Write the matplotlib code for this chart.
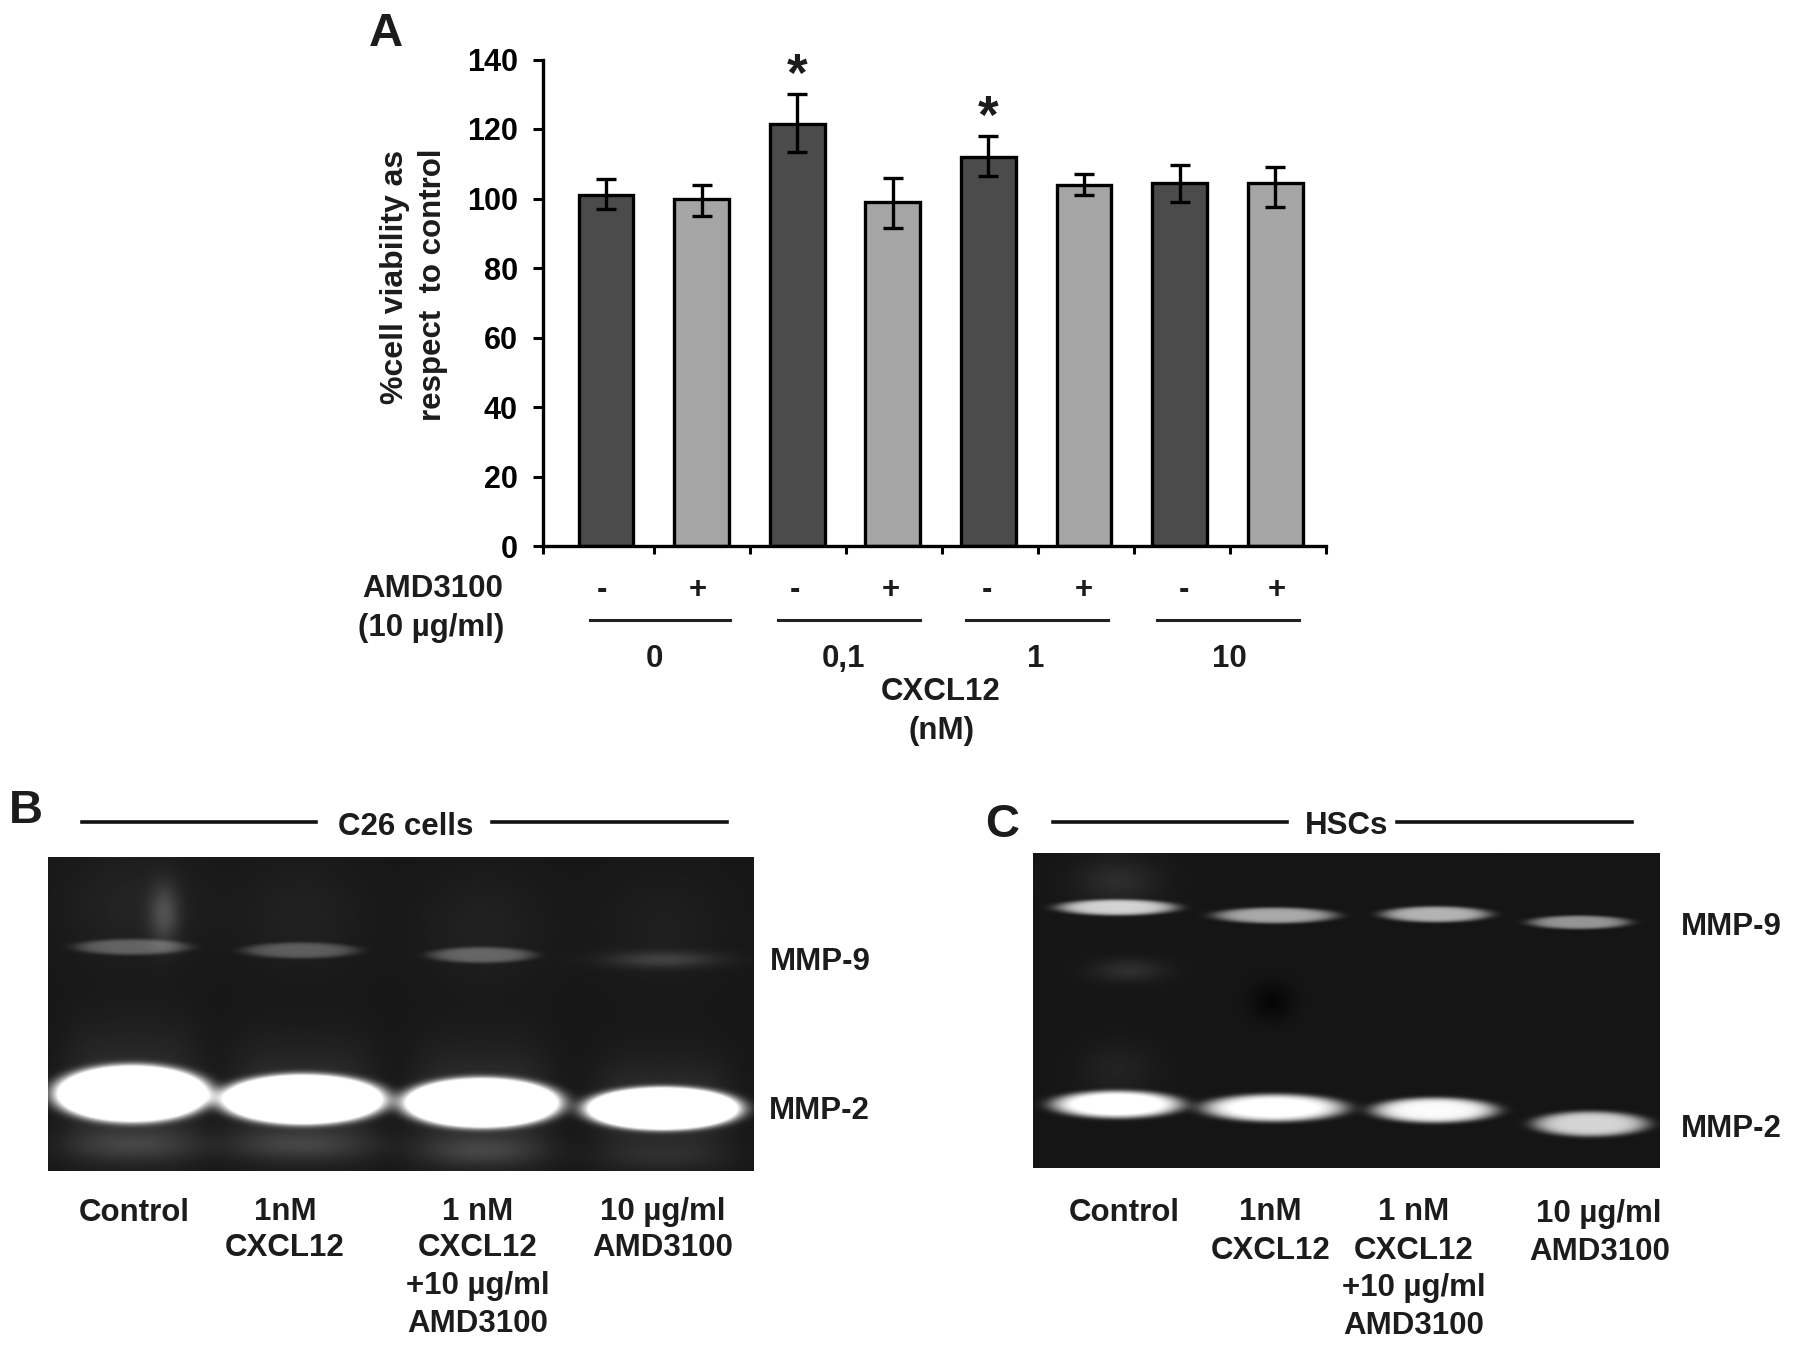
#!/usr/bin/python
# -*- coding: utf-8 -*-
import numpy as np
import matplotlib
matplotlib.use('Agg')
import matplotlib.pyplot as plt

plt.rcParams['font.family'] = ['Liberation Sans', 'DejaVu Sans']
plt.rcParams['font.weight'] = 'bold'

# panel A
viability = [101, 100, 121.5, 99, 112, 104, 104.5, 104.5]
err_up = [4.5, 4, 8.5, 7, 6, 3, 5, 4.5]
err_down = [4, 5, 8, 7.5, 5.5, 3, 5.5, 7]
bar_colors = ['#4b4b4b', '#a5a5a5'] * 4
amd_signs = ['-', '+', '-', '+', '-', '+', '-', '+']
y_ticks = [0, 20, 40, 60, 80, 100, 120, 140]
cxcl_doses = ['0', '0,1', '1', '10']
star_bars = [2, 4]

# gels: lane centre x, band y, half width, half height, brightness
b_x = [115, 264, 420, 578, 115, 262, 420, 578, 143, 115, 262, 420, 578, 115, 262, 420, 578]
b_y = [955, 960, 963, 968, 827, 830, 834, 838, 798, 1000, 1000, 1005, 1010, 790, 800, 810, 810]
b_w = [66, 70, 67, 66, 50, 50, 46, 48, 13, 58, 62, 52, 56, 60, 55, 55, 55]
b_h = [24, 21, 21, 18, 7, 7, 7, 7, 26, 14, 13, 13, 12, 50, 50, 50, 50]
b_i = [2.2, 2.2, 2.2, 2.2, 0.27, 0.25, 0.28, 0.15, 0.19, 0.13, 0.13, 0.14, 0.06, 0.05, 0.04, 0.04, 0.03]

c_x = [975, 1113, 1253, 1378, 975, 1112, 1252, 1388, 985, 1110, 975, 975]
c_y = [793, 800, 799, 806, 965, 968, 970, 982, 848, 875, 770, 935]
c_w = [52, 53, 47, 44, 57, 62, 54, 50, 32, 18, 36, 34]
c_h = [7, 7, 7, 6, 12, 12, 11, 11, 10, 16, 20, 24]
c_i = [0.72, 0.58, 0.62, 0.5, 1.0, 0.95, 0.9, 0.75, 0.1, -0.06, 0.09, 0.05]


def gel_image(x0, x1, y0, y1, xs, ys, ws, hs, vals, back, glow):
    yy, xx = np.mgrid[y0:y1, x0:x1]
    img = np.full(xx.shape, back, dtype=float)
    for x, y, w, h, v in zip(xs, ys, ws, hs, vals):
        r = ((xx - x) / w) ** 2 + ((yy - y) / h) ** 2
        # faint smears get a soft edge, real bands a sharper one
        img += v * np.exp(-r ** (3 if v > 0.2 else 1))
        if v > 1:
            # halo round the saturated bands
            img += glow * np.exp(-(((xx - x) / (w * 0.9)) ** 4 + ((yy - y) / (h * 2.4)) ** 2))
    return np.clip(img, 0, 1)


fig = plt.figure(figsize=(17.95, 13.48), dpi=100)
over = fig.add_axes([0, 0, 1, 1])
over.axis('off')

# gels
img_b = gel_image(42, 658, 749, 1023, b_x, b_y, b_w, b_h, b_i, 0.09, 0.1)
img_c = gel_image(902, 1449, 746, 1021, c_x, c_y, c_w, c_h, c_i, 0.085, 0.0)
over.imshow(img_b, cmap='gray', vmin=0, vmax=1, extent=(42, 658, 1023, 749), aspect='auto', interpolation='bilinear')
over.imshow(img_c, cmap='gray', vmin=0, vmax=1, extent=(902, 1449, 1021, 746), aspect='auto', interpolation='bilinear')
# text positions below were read on the 1568 wide view
over.set_xlim(0, 1568)
over.set_ylim(1178, 0)

# bar chart
ax = fig.add_axes([543 / 1795, 1 - 546 / 1348, (1326 - 543) / 1795, (546 - 59.5) / 1348])
x = np.arange(len(viability)) * 0.996
ax.bar(x, viability, width=0.57, color=bar_colors, edgecolor='black', linewidth=2.4, zorder=2)
ax.errorbar(x, viability, yerr=[err_down, err_up], fmt='none', ecolor='black', elinewidth=2.4,
            capsize=7.5, capthick=2.4, zorder=3)
ax.set_xlim(-0.655, 7.5)
ax.set_ylim(0, 140)
ax.set_yticks(y_ticks)
ax.set_xticks([-0.655] + [i + 0.5 for i in range(8)])
ax.set_xticklabels([])
ax.tick_params(axis='y', length=7, width=2.2, labelsize=22, pad=11)
ax.tick_params(axis='x', length=6, width=2.2)
ax.spines['top'].set_visible(False)
ax.spines['right'].set_visible(False)
ax.spines['left'].set_linewidth(2.4)
ax.spines['bottom'].set_linewidth(2.4)
ax.patch.set_alpha(0)
for i in star_bars:
    ax.text(x[i], viability[i] + err_up[i] + 5, '*', ha='center', va='center', fontsize=38, color='#1c1c1c')

ink = '#1c1c1c'


def label(px, py, s, size=22.5, **kw):
    over.text(px, py + 2, s, ha='center', va='center', fontsize=size, color=ink, **kw)


label(337, 28, 'A', size=34)
label(23, 707, 'B', size=34)
label(875, 719, 'C', size=34)

label(345, 240, '%cell viability as', rotation=90, size=23)
label(378, 247, 'respect  to control', rotation=90, size=22.5)
label(378, 513, 'AMD3100')
label(377, 547, '(10 µg/ml)')

sign_x = [526, 610, 694, 778, 862, 947, 1034, 1115]
for px, s in zip(sign_x, amd_signs):
    label(px, 514, s)
for px0, px1 in [(515, 638), (680, 804), (844, 968), (1011, 1135)]:
    over.plot([px0, px1], [542, 542], color='#222222', lw=2.2)
for px, s in zip([572, 737, 905, 1074], cxcl_doses):
    label(px, 574, s)
label(822, 603, 'CXCL12')
label(822, 637, '(nM)')

# panel B
for px0, px1 in [(72, 276), (430, 635)]:
    over.plot([px0, px1], [718, 718], color='#111111', lw=2.6)
label(354, 721, 'C26 cells')
label(717, 839, 'MMP-9')
label(716, 969, 'MMP-2')
label(117, 1058, 'Control')
label(249, 1057, '1nM')
label(249, 1089, 'CXCL12')
label(417, 1057, '1 nM')
label(417, 1089, 'CXCL12')
label(417, 1122, '+10 µg/ml')
label(417, 1155, 'AMD3100')
label(579, 1057, '10 µg/ml')
label(579, 1089, 'AMD3100')

# panel C
for px0, px1 in [(920, 1124), (1220, 1426)]:
    over.plot([px0, px1], [718, 718], color='#111111', lw=2.6)
label(1176, 720, 'HSCs')
label(1512, 808, 'MMP-9')
label(1512, 985, 'MMP-2')
label(982, 1058, 'Control')
label(1110, 1057, '1nM')
label(1110, 1091, 'CXCL12')
label(1235, 1057, '1 nM')
label(1235, 1091, 'CXCL12')
label(1235, 1124, '+10 µg/ml')
label(1235, 1157, 'AMD3100')
label(1397, 1059, '10 µg/ml')
label(1397, 1092, 'AMD3100')

fig.savefig('out.png', dpi=100)
